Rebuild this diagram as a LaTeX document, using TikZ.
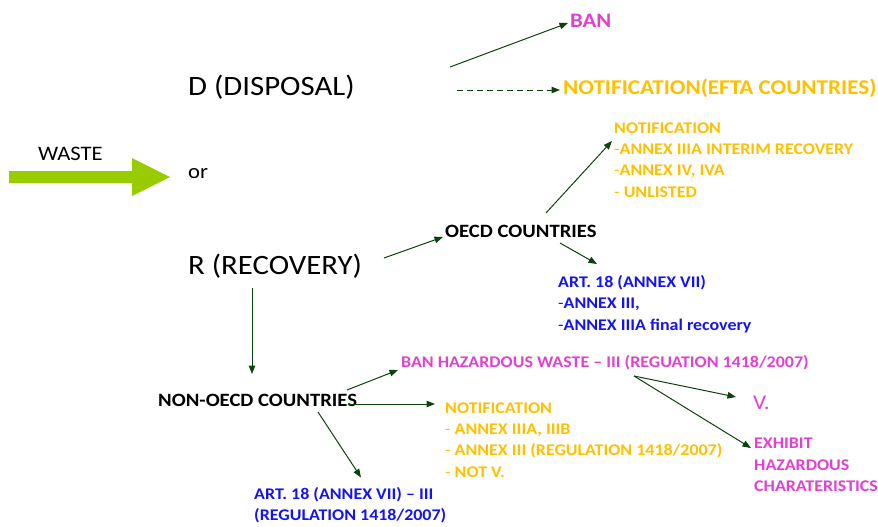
\documentclass[tikz,border=0pt]{standalone}
\usepackage{fontspec}
\setmainfont{Carlito}[FakeStretch=1.1]
\usetikzlibrary{positioning, arrows.meta}

\definecolor{arrgreen}{RGB}{12,66,12}
\definecolor{banpink}{RGB}{226,64,208}
\definecolor{notiforange}{RGB}{255,192,0}
\definecolor{artblue}{RGB}{20,20,240}
\definecolor{wastegreen}{RGB}{153,204,0}

\tikzset{
  arr/.style={draw=arrgreen, line width=1pt, -{Triangle[length=8.5pt,width=6.5pt]}},
  lbl/.style={inner sep=0pt, anchor=west, align=left},
  bigtxt/.style={lbl, font=\fontsize{28}{28}\selectfont},
  headtxt/.style={lbl, font=\fontsize{18.8}{18.8}\selectfont\bfseries},
  smalltxt/.style={lbl, font=\fontsize{16.3}{21.3}\selectfont\bfseries},
}

\begin{document}
\begin{tikzpicture}[x=1pt, y=-1pt]
    \useasboundingbox (0,0) rectangle (878,527);

    % the waste arrow
    \fill[wastegreen] (9,171) -- (132,171) -- (132,158) -- (170,177)
        -- (132,196) -- (132,183) -- (9,183) -- cycle;
    \node[lbl, font=\fontsize{20.6}{20.6}\selectfont] (waste) at (38,154) {WASTE};
    \node[lbl, font=\fontsize{20.6}{20.6}\selectfont] (or) at (188,174) {or};

    % disposal branch
    \node[bigtxt] (disp) at (188,87) {D (DISPOSAL)};
    \node[lbl, font=\fontsize{20.6}{20.6}\selectfont\bfseries, text=banpink] (ban) at (570,21) {BAN};
    \node[lbl, font=\fontsize{21}{21}\selectfont\bfseries, text=notiforange] (efta) at (563,88) {NOTIFICATION(EFTA COUNTRIES)};

    \coordinate (dispup) at (450,67);
    \coordinate (dispright) at (457,90);
    \draw[arr] (dispup) -- ([shift={(-2,2)}]ban.west);
    \draw[arr, dash pattern=on 6pt off 4pt] (dispright) -- ([xshift=-3pt]efta.west |- dispright);

    % recovery branch
    \node[bigtxt] (rec) at (188,266) {R (RECOVERY)};
    \node[headtxt] (oecd) at (445,231) {OECD COUNTRIES};
    \node[smalltxt, text=notiforange] (oecdnotif) at (614,160)
        {NOTIFICATION\\\textmd{-}ANNEX IIIA INTERIM RECOVERY\\\textmd{-}ANNEX IV, IVA\\\textmd{-} UNLISTED};
    \node[smalltxt, text=artblue] (oecdart) at (558,304)
        {ART. 18 (ANNEX VII)\\\textmd{-}ANNEX III,\\\textmd{-}ANNEX IIIA final recovery};

    \coordinate (recout) at (384,258);
    \coordinate (oecdup) at (546,213);
    \coordinate (oecddown) at (560,243);
    \draw[arr] (recout) -- ([shift={(-2,6)}]oecd.west);
    \draw[arr] (oecdup) -- ([shift={(-2,-19)}]oecdnotif.west);
    \draw[arr] (oecddown) -- ([shift={(39,-40)}]oecdart.west);

    % non-oecd countries
    \node[headtxt] (nonoecd) at (158,400) {NON-OECD COUNTRIES};
    \node[smalltxt, text=banpink] (banhaz) at (401,363)
        {BAN HAZARDOUS WASTE -- III (REGUATION 1418/2007)};
    \node[smalltxt, text=notiforange] (nonnotif) at (445,440)
        {NOTIFICATION\\\textmd{-} ANNEX IIIA, IIIB\\\textmd{-} ANNEX III (REGULATION 1418/2007)\\\textmd{-} NOT V.};
    \node[smalltxt, text=artblue] (nonart) at (254,505.5)
        {ART. 18 (ANNEX VII) -- III\\(REGULATION 1418/2007)};
    \node[lbl, font=\fontsize{21}{21}\selectfont, text=banpink] (vee) at (753,403) {V.};
    \node[smalltxt, text=banpink] (exhibit) at (754,465)
        {EXHIBIT\\HAZARDOUS\\CHARATERISTICS};

    \coordinate (recdown) at (252,288);
    \coordinate (nonup) at (347,390);
    \coordinate (nonright) at (348,404);
    \coordinate (nondown) at (318,412);
    \coordinate (banfork) at (634,376);
    \draw[arr] (recdown) -- ([yshift=26pt]recdown |- nonoecd.center);
    \draw[arr] (nonup) -- ([shift={(-3,7)}]banhaz.west);
    \draw[arr] (nonright) -- ([xshift=-10pt]nonnotif.west |- nonright);
    \draw[arr] (nondown) -- ([shift={(107,-28)}]nonart.west);
    \draw[arr] (banfork) -- ([shift={(-17,-6)}]vee.west);
    \draw[arr] (banfork) -- ([shift={(-3,-17)}]exhibit.west);

  \end{tikzpicture}
\end{document}
